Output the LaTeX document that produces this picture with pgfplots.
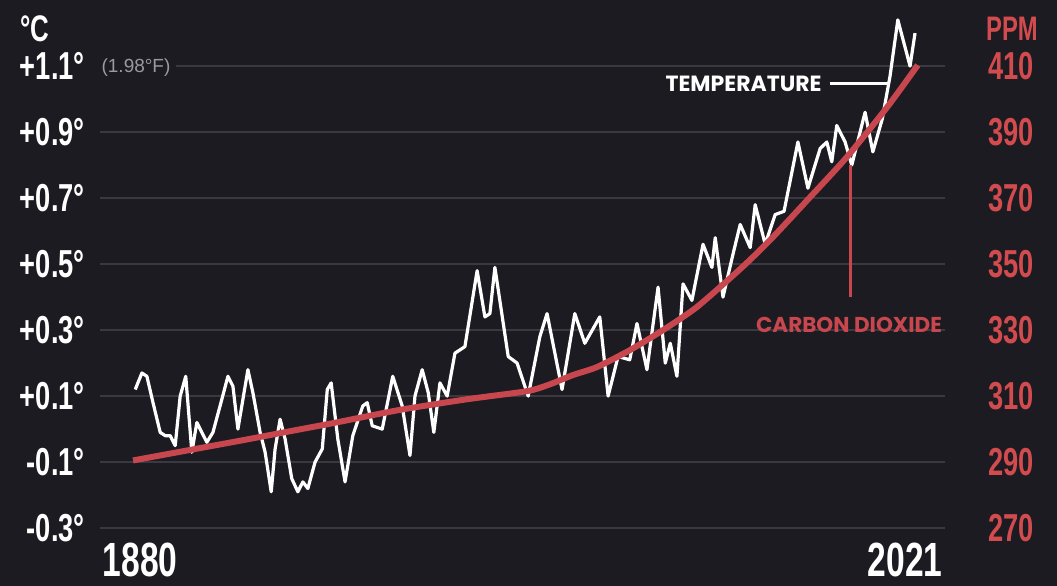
\documentclass[border=0pt]{standalone}
\usepackage{pgfplots}
\pgfplotsset{compat=1.18}
\usepackage{pgfplotstable}
\usepackage{fontspec}
\setmainfont{Liberation Sans}
\newfontfamily\cond[FakeStretch=0.7]{Liberation Sans}
\newfontfamily\wide{Poppins}
\definecolor{bgc}{HTML}{1C1B21}
\definecolor{gridc}{HTML}{3A3940}
\definecolor{co2c}{HTML}{C8474E}
\definecolor{redlab}{HTML}{D24B4E}
\definecolor{grayc}{HTML}{9A9A9E}

% temperature anomaly
\pgfplotstableread{
year temp
1880.4 0.12
1881.6 0.17
1882.5 0.16
1883.6 0.08
1884.9 -0.01
1885.8 -0.02
1886.7 -0.02
1887.6 -0.05
1888.5 0.10
1889.5 0.16
1890.6 -0.07
1891.5 0.02
1892.4 -0.01
1893.3 -0.04
1894.4 -0.01
1896.0 0.09
1897.1 0.16
1898.0 0.13
1898.9 0.00
1899.8 0.09
1900.7 0.18
1901.6 0.11
1902.9 -0.01
1903.8 -0.07
1904.9 -0.19
1905.6 -0.06
1906.5 0.03
1907.4 -0.03
1908.6 -0.15
1909.7 -0.19
1910.6 -0.16
1911.5 -0.18
1912.8 -0.10
1914.1 -0.06
1915.0 0.12
1915.7 0.14
1916.9 -0.03
1918.2 -0.16
1919.6 -0.02
1921.4 0.07
1922.2 0.08
1923.1 0.01
1924.9 0.00
1926.8 0.16
1928.5 0.07
1929.9 -0.08
1930.8 0.10
1932.1 0.18
1933.2 0.11
1934.2 -0.01
1935.3 0.14
1936.6 0.10
1938.0 0.23
1939.8 0.25
1942.0 0.48
1943.4 0.34
1944.3 0.35
1945.2 0.49
1947.6 0.22
1949.2 0.20
1951.2 0.10
1953.3 0.28
1954.6 0.35
1957.3 0.12
1959.6 0.35
1961.4 0.26
1964.1 0.34
1965.6 0.10
1967.4 0.22
1969.5 0.21
1970.8 0.32
1972.6 0.18
1974.6 0.43
1975.9 0.20
1976.8 0.26
1978.0 0.16
1979.1 0.44
1980.7 0.39
1982.7 0.56
1984.3 0.49
1984.9 0.58
1986.3 0.40
1988.1 0.53
1989.4 0.62
1991.2 0.55
1992.1 0.68
1993.3 0.60
1993.9 0.56
1995.7 0.65
1997.3 0.66
1999.8 0.87
2001.6 0.73
2003.8 0.85
2005.0 0.87
2005.9 0.81
2006.8 0.92
2008.3 0.87
2009.5 0.80
2011.9 0.96
2013.3 0.84
2015.0 0.94
2016.4 1.07
2017.8 1.24
2020.0 1.10
2020.9 1.20
}\temptable

% carbon dioxide, ppm
\pgfplotstableread{
year ppm
1880 290.5
1890 293.6
1900 296.7
1910 299.9
1916 301.8
1928 305.8
1940 309.0
1951 311.5
1955 313.5
1959.3 316.4
1963.6 318.8
1969.5 323.9
1975.5 330.0
1981.6 337.0
1989.4 348.5
1994.8 357.3
2002.0 370.3
2008.6 382.4
2015.9 397.6
2021.4 410.3
}\cotable

\begin{document}
\begin{tikzpicture}
\fill[bgc] (-100pt,-48pt) rectangle (957pt,538pt);
\pgfplotsset{base/.style={
    scale only axis, width=845pt, height=528pt,
    xmin=1874.05, xmax=2026.3,
    axis line style={draw=none},
    major tick style={draw=none},
    clip=false,
}}
\begin{axis}[base,
    ymin=-0.330, ymax=1.27,
    ytick={-0.3,-0.1,0.1,0.3,0.5,0.7,0.9,1.1},
    yticklabels={-0.3°,-0.1°,+0.1°,+0.3°,+0.5°,+0.7°,+0.9°,+1.1°},
    yticklabel style={font=\cond\bfseries\fontsize{39}{39}\selectfont, text=white,
        anchor=east, inner sep=0pt, xshift=-15pt},
    xtick={1881.3,2019.1},
    xticklabels={1880,2021},
    xticklabel style={font=\cond\bfseries\fontsize{48}{48}\selectfont, text=white,
        anchor=north, inner sep=0pt, yshift=-5pt},
    ymajorgrids,
    grid style={gridc, line width=2pt},
]
\addplot[white, line width=3.2pt, line join=round] table[x=year, y=temp] {\temptable};

\draw[white, line width=3pt] (axis cs:2005.6,1.048) -- (axis cs:2016.0,1.048);
\node[anchor=east, inner sep=0pt, text=white, font=\wide\bfseries\fontsize{22}{22}\selectfont]
    at (axis cs:2004.1,1.045) {TEMPERATURE};
\draw[co2c, line width=3pt] (axis cs:2009.2,0.80) -- (axis cs:2009.2,0.40);
\node[inner sep=0pt, text=co2c, font=\wide\bfseries\fontsize{21.5}{21.5}\selectfont]
    at (axis cs:2009.0,0.315) {CARBON DIOXIDE};
\end{axis}

\begin{axis}[base,
    ymin=267, ymax=427,
    axis y line*=right,
    hide x axis,
    ytick={270,290,310,330,350,370,390,410},
    yticklabels={270,290,310,330,350,370,390,410},
    yticklabel style={font=\cond\bfseries\fontsize{39}{39}\selectfont, text=redlab,
        anchor=west, inner sep=0pt, xshift=43pt},
]
\addplot[co2c, line width=6pt, smooth, tension=0.4] table[x=year, y=ppm] {\cotable};
\end{axis}

\node[inner sep=0pt, text=white, font=\cond\bfseries\fontsize{37}{37}\selectfont]
    at (-65pt,509pt) {°C};
\node[inner sep=0pt, text=redlab, font=\cond\bfseries\fontsize{34}{34}\selectfont]
    at (912pt,509pt) {PPM};
\node[fill=bgc, inner xsep=6pt, inner ysep=2pt, text=grayc, font=\fontsize{19}{19}\selectfont]
    at (36pt,470pt) {(1.98°F)};

\pgfresetboundingbox
\path[use as bounding box] (-100pt,-48pt) rectangle (957pt,538pt);
\end{tikzpicture}
\end{document}
